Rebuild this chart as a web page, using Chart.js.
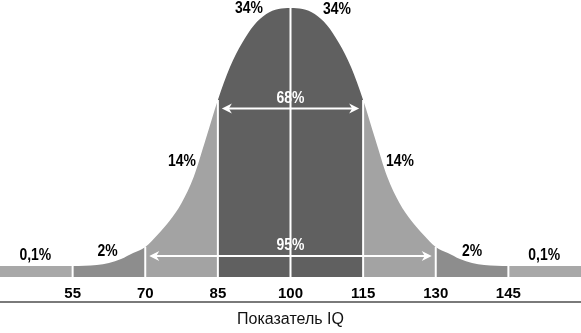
<!DOCTYPE html>
<html>
<head>
<meta charset="utf-8">
<script src="https://cdn.jsdelivr.net/npm/chart.js@4/dist/chart.umd.min.js"></script>
<style>
  body { margin: 0; background: #fff; }
</style>
</head>
<body>
<canvas id="iq-chart" width="581" height="333"></canvas>
<script>
// bell curve: IQ score and curve height
var iqScores = [40, 55, 60, 62.5, 65, 67.5, 70, 72.5, 75, 77.5, 80, 82.5, 85, 87.5, 90, 92.5, 95, 97.5, 100,
  102.5, 105, 107.5, 110, 112.5, 115, 117.5, 120, 122.5, 125, 127.5, 130, 132.5, 135, 137.5, 140, 145, 160];
var curveHeights = [11, 11, 12, 14, 18, 24, 30, 42, 56, 74, 100, 138, 177, 210, 234, 252, 263, 268, 269,
  268, 263, 252, 234, 210, 177, 138, 100, 74, 56, 42, 30, 24, 18, 14, 12, 11, 11];
var tickValues = [55, 70, 85, 100, 115, 130, 145];
var bandEdges = [55, 70, 85, 115, 130, 145];
var bandColors = ['#a8a8a8', '#8d8d8d', '#a3a3a3', '#606060', '#a3a3a3', '#8d8d8d', '#a8a8a8'];
var shareLabels = ['0,1%', '2%', '14%', '34%', '34%', '14%', '2%', '0,1%'];
var rangeLabels = ['68%', '95%'];
var rangeSpans = [[85, 115], [70, 130]];

var sans = '"Liberation Sans", Arial, sans-serif';

function heightAt(v) {
  return curveHeights[iqScores.indexOf(v)];
}

function bandIndex(v) {
  var i = 0;
  while (i < bandEdges.length && v >= bandEdges[i]) i++;
  return i;
}

var curve = iqScores.map(function (v, i) {
  return { x: v, y: curveHeights[i] };
});

var datasets = [{
  data: curve,
  order: 10,
  borderWidth: 0,
  pointRadius: 0,
  cubicInterpolationMode: 'monotone',
  fill: 'origin',
  backgroundColor: bandColors[0],
  segment: {
    backgroundColor: function (ctx) {
      return bandColors[bandIndex(ctx.p0.parsed.x)];
    }
  }
}];

// white separators at every sigma step
tickValues.forEach(function (v) {
  datasets.push({
    data: [{ x: v, y: 0 }, { x: v, y: heightAt(v) }],
    order: 1,
    borderColor: '#ffffff',
    borderWidth: 2,
    pointRadius: 0,
    fill: false
  });
});

function arrowHead(ctx, tx, ty, dir) {
  ctx.beginPath();
  ctx.moveTo(tx, ty);
  ctx.lineTo(tx - dir * 10, ty - 5);
  ctx.lineTo(tx - dir * 7, ty);
  ctx.lineTo(tx - dir * 10, ty + 5);
  ctx.closePath();
  ctx.fill();
}

// narrow bold label: squeeze regular bold glyphs horizontally
function narrowText(ctx, text, x, y) {
  ctx.save();
  ctx.translate(x, y);
  ctx.scale(0.82, 1);
  ctx.fillText(text, 0, 0);
  ctx.restore();
}

var overlay = {
  id: 'overlay',
  afterDatasetsDraw: function (chart) {
    var ctx = chart.ctx;
    var xs = chart.scales.x;
    var ys = chart.scales.y;
    ctx.save();
    ctx.font = 'bold 17px ' + sans;
    ctx.textAlign = 'center';
    ctx.textBaseline = 'middle';

    // range arrows with their labels
    var arrowLevels = [168.5, 21];
    var textLevels = [179, 31.5];
    rangeSpans.forEach(function (span, i) {
      var y = ys.getPixelForValue(arrowLevels[i]);
      var x0 = xs.getPixelForValue(span[0]) + 4;
      var x1 = xs.getPixelForValue(span[1]) - 4;
      ctx.strokeStyle = '#ffffff';
      ctx.fillStyle = '#ffffff';
      ctx.lineWidth = 2;
      ctx.beginPath();
      ctx.moveTo(x0 + 6, y);
      ctx.lineTo(x1 - 6, y);
      ctx.stroke();
      arrowHead(ctx, x0, y, -1);
      arrowHead(ctx, x1, y, 1);
      narrowText(ctx, rangeLabels[i], xs.getPixelForValue((span[0] + span[1]) / 2), ys.getPixelForValue(textLevels[i]));
    });

    // share of population in each band
    var spots = [[47.3, 22], [62.2, 26], [77.6, 116], [91.4, 268.5], [109.6, 268], [122.6, 116], [137.5, 26], [152.4, 22]];
    ctx.fillStyle = '#000000';
    shareLabels.forEach(function (t, i) {
      narrowText(ctx, t, xs.getPixelForValue(spots[i][0]), ys.getPixelForValue(spots[i][1]));
    });
    ctx.restore();
  }
};

new Chart(document.getElementById('iq-chart').getContext('2d'), {
  type: 'line',
  data: { datasets: datasets },
  plugins: [overlay],
  options: {
    responsive: false,
    animation: false,
    events: [],
    layout: { padding: 0 },
    plugins: {
      legend: { display: false },
      tooltip: { enabled: false }
    },
    scales: {
      x: {
        type: 'linear',
        min: 40,
        max: 160,
        afterBuildTicks: function (scale) {
          scale.ticks = tickValues.map(function (v) { return { value: v }; });
        },
        afterFit: function (scale) {
          scale.height = 31;
        },
        grid: { display: false },
        border: { display: true, color: '#7a7a7a', width: 2 },
        ticks: {
          mirror: true,
          padding: -1,
          color: '#000000',
          maxRotation: 0,
          autoSkip: false,
          font: { family: sans, size: 15, weight: 'bold' }
        },
        title: {
          display: true,
          text: 'Показатель IQ',
          color: '#111111',
          font: { family: sans, size: 16 },
          padding: { top: 0, bottom: 4 }
        }
      },
      y: {
        display: false,
        min: -25,
        max: 277
      }
    }
  }
});
</script>
</body>
</html>
